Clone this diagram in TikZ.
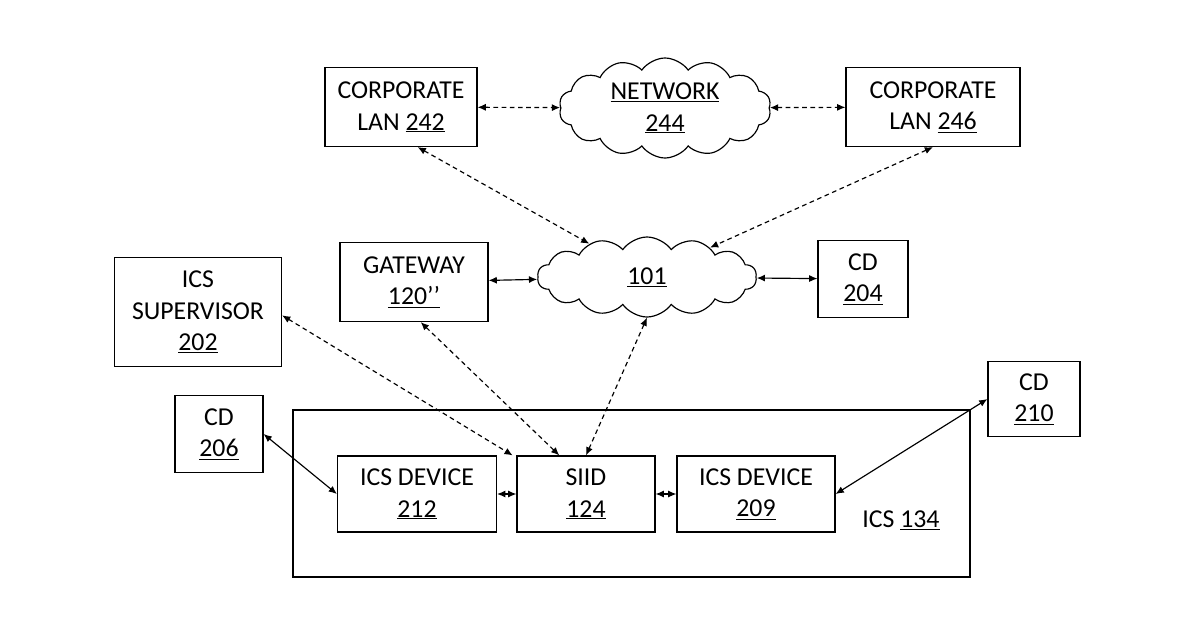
\documentclass[tikz,border=0pt]{standalone}
\usepackage{fontspec}
\setmainfont{Carlito}
\usetikzlibrary{positioning, arrows.meta, shapes.symbols}
\tikzset{
  box/.style={draw, line width=1pt, align=center, inner sep=2pt},
  puff/.style={draw, line width=1pt, cloud, cloud puffs=14, cloud puff arc=110, aspect=2.2, align=center, inner sep=0pt},
  link/.style={{Latex[length=7pt,width=6pt]}-{Latex[length=7pt,width=6pt]}, line width=1pt},
  dlink/.style={link, dashed, dash pattern=on 4pt off 3pt}
}
\begin{document}
\begin{tikzpicture}[x=0.03cm,y=-0.03cm, font=\fontsize{22}{27}\selectfont]
\useasboundingbox (0,0) rectangle (1200,630);
% top row
\node[box, minimum width=4.56cm, minimum height=2.37cm] (lanA) at (401,107) {CORPORATE\\LAN \underline{242}};
\node[box, minimum width=5.22cm, minimum height=2.37cm] (lanB) at (933,107) {CORPORATE\\LAN \underline{246}};
\node[puff, minimum width=6.36cm, minimum height=3.0cm] (net) at (665,108) {\underline{NETWORK}\\\underline{244}};
% middle row
\node[box, minimum width=4.44cm, minimum height=2.37cm] (gw) at (414,282) {GATEWAY\\\underline{120’’}};
\node[puff, minimum width=6.57cm, minimum height=2.4cm] (cl) at (647,277) {\underline{101}};
\node[box, minimum width=2.7cm, minimum height=2.31cm] (cdA) at (863,279) {CD\\\underline{204}};
\node[box, minimum width=5.01cm, minimum height=3.27cm] (sup) at (198,312) {ICS\\SUPERVISOR\\\underline{202}};
\node[box, minimum width=2.64cm, minimum height=2.31cm] (cdB) at (219,434) {CD\\\underline{206}};
\node[box, minimum width=2.76cm, minimum height=2.25cm] (cdC) at (1034,399) {CD\\\underline{210}};
% ICS
\draw[line width=1pt] (293,410) rectangle (970,577);
\node (ics) at (901,520) {ICS \underline{134}};
\node[box, minimum width=4.77cm, minimum height=2.28cm] (devA) at (417,494) {ICS DEVICE\\\underline{212}};
\node[box, minimum width=4.14cm, minimum height=2.28cm] (siid) at (586,494) {SIID\\\underline{124}};
\node[box, minimum width=4.74cm, minimum height=2.28cm] (devB) at (756,494) {ICS DEVICE\\\underline{209}};
% links
\draw[dlink] (lanA) -- (net);
\draw[dlink] (net) -- (lanB);
\draw[dlink] ([xshift=0.5cm]lanA.south) -- (cl.150);
\draw[dlink] (lanB.south) -- (cl.25);
\draw[link] (gw) -- (cl);
\draw[link] (cl) -- (cdA);
\draw[dlink] ([yshift=-0.1cm]sup.east) -- ([xshift=-2.2cm]siid.north);
\draw[dlink] ([xshift=0.2cm]gw.south) -- ([xshift=-0.8cm]siid.north);
\draw[dlink] (cl.south) -- (siid.north);
\draw[link] (cdB.east) -- (devA.west);
\draw[link] (devA) -- (siid);
\draw[link] (siid) -- (devB);
\draw[link] (devB.east) -- (cdC.west);
\end{tikzpicture}
\end{document}
